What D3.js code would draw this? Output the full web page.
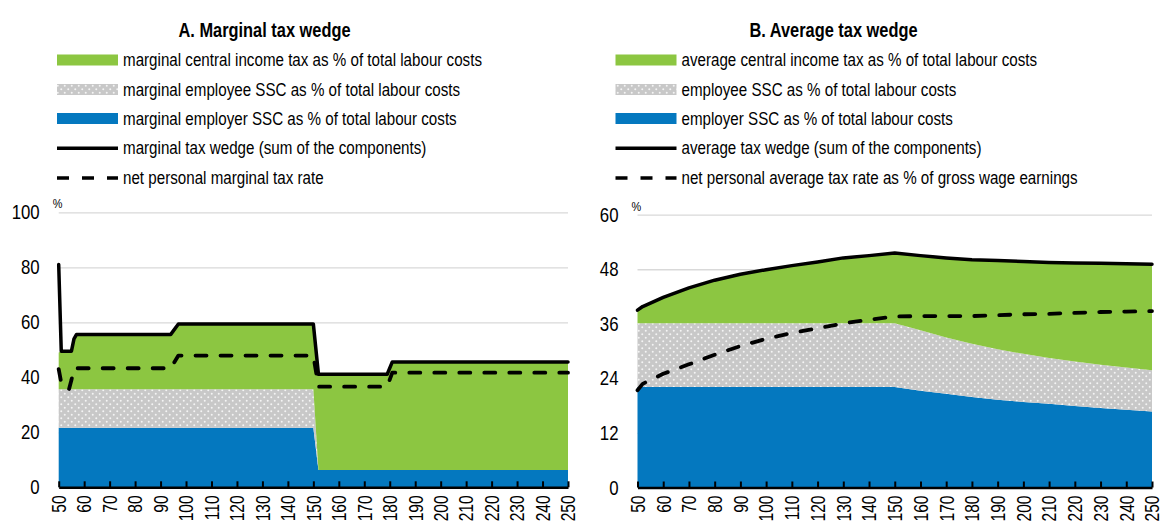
<!DOCTYPE html>
<html>
<head>
<meta charset="utf-8">
<script src="https://cdn.jsdelivr.net/npm/d3@7"></script>
<style>
body { margin: 0; background: #fff; }
svg text { font-family: "Liberation Sans Narrow", "Arial Narrow", "Liberation Sans", Arial, sans-serif; fill: #000; }
</style>
</head>
<body>
<div id="chart"></div>
<script>
const width = 1164;
const height = 522;

// earnings as % of average wage
const xTicks = [50, 60, 70, 80, 90, 100, 110, 120, 130, 140, 150, 160, 170, 180, 190, 200, 210, 220, 230, 240, 250];

// Panel A: marginal tax wedge
const xMarg = [50, 51, 54, 55, 56, 57, 94, 97, 150, 152, 179, 181, 250];
const employerMarg = [21.7, 21.7, 21.7, 21.7, 21.7, 21.7, 21.7, 21.7, 21.7, 6.3, 6.3, 6.3, 6.3];
const employeeMarg = [14.0, 14.0, 14.0, 14.0, 14.0, 14.0, 14.0, 14.0, 14.0, 0, 0, 0, 0];
const incomeMarg = [13.3, 13.8, 13.8, 13.8, 18.3, 19.9, 19.9, 23.7, 23.7, 34.8, 34.8, 39.3, 39.3];
const wedgeMarg = [81, 49.5, 49.5, 49.5, 54, 55.6, 55.6, 59.4, 59.4, 41.1, 41.1, 45.6, 45.6];
const netMarg = [43, 38, 35.5, 39, 43.3, 43.3, 43.3, 47.9, 47.9, 36.6, 36.6, 41.7, 41.7];
const yTicksMarg = [0, 20, 40, 60, 80, 100];

// Panel B: average tax wedge
const xAvg = [50, 52, 60, 70, 80, 90, 100, 110, 120, 130, 140, 150, 160, 170, 180, 190, 200, 210, 220, 230, 240, 250];
const employerAvg = [22.1, 22.1, 22.1, 22.1, 22.1, 22.1, 22.1, 22.1, 22.1, 22.1, 22.1, 22.1, 21.3, 20.6, 19.9, 19.3, 18.8, 18.4, 17.9, 17.5, 17.1, 16.7];
const employeeAvg = [14.0, 14.0, 14.0, 14.0, 14.0, 14.0, 14.0, 14.0, 14.0, 14.0, 14.0, 14.0, 13.3, 12.4, 11.7, 11.1, 10.6, 10.1, 9.8, 9.5, 9.3, 9.1];
const incomeAvg = [2.9, 3.7, 5.7, 7.8, 9.5, 10.8, 11.8, 12.7, 13.5, 14.4, 14.9, 15.5, 16.4, 17.5, 18.5, 19.5, 20.3, 21.0, 21.7, 22.3, 22.8, 23.3];
const wedgeAvg = [39.0, 39.8, 41.8, 43.9, 45.6, 46.9, 47.9, 48.8, 49.6, 50.5, 51.0, 51.6, 51.0, 50.5, 50.1, 49.9, 49.7, 49.5, 49.4, 49.3, 49.2, 49.1];
const netAvg = [21.4, 22.8, 25.0, 27.1, 29.2, 31.1, 32.7, 34.0, 35.0, 36.1, 36.9, 37.6, 37.7, 37.7, 37.7, 37.9, 38.1, 38.2, 38.4, 38.6, 38.7, 38.8];
const yTicksAvg = [0, 12, 24, 36, 48, 60];

const legendMarg = [
  "marginal central income tax as % of total labour costs",
  "marginal employee SSC as % of total labour costs",
  "marginal employer SSC as % of total labour costs",
  "marginal tax wedge (sum of the components)",
  "net personal marginal tax rate"
];
const legendAvg = [
  "average central income tax as % of total labour costs",
  "employee SSC as % of total labour costs",
  "employer SSC as % of total labour costs",
  "average tax wedge (sum of the components)",
  "net personal average tax rate as % of gross wage earnings"
];

const green = "#8cc641";
const blue = "#0478bf";

const svg = d3.select("#chart").append("svg")
  .attr("width", width)
  .attr("height", height);

// dotted grey fill for employee SSC
const pat = svg.append("defs").append("pattern")
  .attr("id", "dots")
  .attr("patternUnits", "userSpaceOnUse")
  .attr("width", 7)
  .attr("height", 7);
pat.append("rect").attr("width", 7).attr("height", 7).attr("fill", "#c8c8c8");
pat.append("circle").attr("cx", 1.75).attr("cy", 1.75).attr("r", 1).attr("fill", "#f4f4f4");
pat.append("circle").attr("cx", 5.25).attr("cy", 5.25).attr("r", 1).attr("fill", "#f4f4f4");

// no narrow font installed: squeeze the glyphs horizontally instead
function narrow(sel, k) {
  sel.each(function () {
    const t = d3.select(this);
    const tx = +t.attr("x") || 0;
    const ty = +t.attr("y") || 0;
    t.attr("x", 0).attr("y", 0)
      .attr("transform", "translate(" + tx + "," + ty + ") scale(" + k + ",1)");
  });
}

function drawPanel(p) {
  const x = d3.scaleLinear().domain([50, 250]).range(p.xRange);
  const y = d3.scaleLinear().domain([0, p.yTicks[p.yTicks.length - 1]]).range(p.yRange);
  const g = svg.append("g");

  // title
  g.append("text")
    .attr("x", p.titleX)
    .attr("y", 37)
    .attr("text-anchor", "middle")
    .style("font-size", "20px")
    .style("font-weight", "bold")
    .text(p.title)
    .call(narrow, 0.82);

  // legend
  const fills = [green, "url(#dots)", blue];
  const rowY = [60, 89.5, 118.5, 148.3, 178];
  p.legend.forEach(function (label, i) {
    const sx = p.legendX;
    if (i < 3) {
      g.append("rect")
        .attr("x", sx).attr("y", rowY[i] - 5.5)
        .attr("width", 61).attr("height", 11)
        .attr("fill", fills[i]);
    } else {
      g.append("line")
        .attr("x1", sx).attr("x2", sx + 61)
        .attr("y1", rowY[i]).attr("y2", rowY[i])
        .attr("stroke", "#000")
        .attr("stroke-width", 3.5)
        .attr("stroke-dasharray", i === 4 ? "12,13" : null);
    }
    g.append("text")
      .attr("x", sx + 66)
      .attr("y", rowY[i] + 6)
      .style("font-size", "18.5px")
      .text(label)
      .call(narrow, 0.82);
  });

  // y axis with gridlines
  const yAxis = g.append("g")
    .attr("transform", "translate(" + p.xRange[0] + ",0)")
    .call(d3.axisLeft(y).tickValues(p.yTicks).tickSize(-(p.xRange[1] - p.xRange[0])));
  yAxis.select(".domain").remove();
  yAxis.selectAll(".tick line").attr("stroke", "#d9d9d9").attr("stroke-width", 1.3);
  yAxis.selectAll(".tick text")
    .attr("x", -19)
    .style("font-size", "20.5px")
    .style("font-family", null)
    .call(narrow, 0.82);

  g.append("text")
    .attr("x", p.xRange[0] - 6)
    .attr("y", y(p.yTicks[p.yTicks.length - 1]) - 4)
    .style("font-size", "13px")
    .text("%")
    .call(narrow, 0.84);

  // stacked areas
  const table = p.xs.map(function (v, i) {
    return { x: v, employer: p.employer[i], employee: p.employee[i], income: p.income[i] };
  });
  const stack = d3.stack().keys(["employer", "employee", "income"]);
  const layers = stack(table);
  const area = d3.area()
    .x(function (d) { return x(d.data.x); })
    .y0(function (d) { return y(d[0]); })
    .y1(function (d) { return y(d[1]); });
  g.append("g")
    .selectAll("path")
    .data(layers)
    .enter()
    .append("path")
    .attr("fill", function (d, i) { return fills[2 - i]; })
    .attr("d", area);

  // lines
  const line = d3.line()
    .x(function (d) { return x(d[0]); })
    .y(function (d) { return y(d[1]); });
  g.append("path")
    .attr("fill", "none")
    .attr("stroke", "#000")
    .attr("stroke-width", 3.5)
    .attr("stroke-linejoin", "round")
    .attr("stroke-linecap", "round")
    .attr("d", line(p.xs.map(function (v, i) { return [v, p.wedge[i]]; })));
  g.append("path")
    .attr("fill", "none")
    .attr("stroke", "#000")
    .attr("stroke-width", 3.8)
    .attr("stroke-linejoin", "round")
    .attr("stroke-linecap", "round")
    .attr("stroke-dasharray", "11,14")
    .attr("d", line(p.xs.map(function (v, i) { return [v, p.net[i]]; })));

  // x axis, labels rotated and reading upwards
  const xAxis = g.append("g")
    .attr("transform", "translate(0," + p.yRange[0] + ")")
    .call(d3.axisBottom(x).tickValues(xTicks).tickSize(-6).tickSizeOuter(0));
  xAxis.select(".domain").attr("stroke-width", 2.5);
  xAxis.selectAll(".tick line").attr("stroke-width", 2);
  xAxis.selectAll(".tick text")
    .attr("transform", "rotate(-90) translate(-8,0) scale(0.8,1)")
    .attr("x", 0)
    .attr("y", 0)
    .attr("dy", "0.35em")
    .attr("text-anchor", "end")
    .style("font-size", "19.5px")
    .style("font-family", null);
}

drawPanel({
  title: "A. Marginal tax wedge",
  titleX: 264.5,
  legend: legendMarg,
  legendX: 57,
  xRange: [58.7, 568],
  yRange: [487.3, 212.3],
  yTicks: yTicksMarg,
  xs: xMarg,
  employer: employerMarg,
  employee: employeeMarg,
  income: incomeMarg,
  wedge: wedgeMarg,
  net: netMarg
});

drawPanel({
  title: "B. Average tax wedge",
  titleX: 833.5,
  legend: legendAvg,
  legendX: 615.5,
  xRange: [637.5, 1152],
  yRange: [487.5, 214.7],
  yTicks: yTicksAvg,
  xs: xAvg,
  employer: employerAvg,
  employee: employeeAvg,
  income: incomeAvg,
  wedge: wedgeAvg,
  net: netAvg
});
</script>
</body>
</html>
